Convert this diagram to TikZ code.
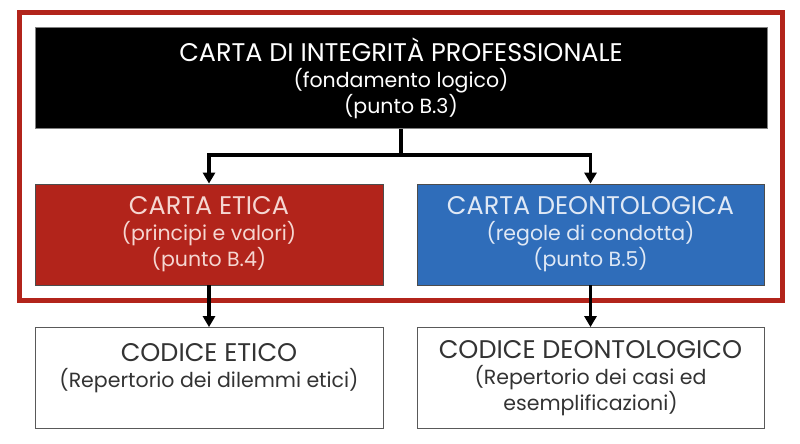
\documentclass[tikz,border=0pt]{standalone}
\usepackage{fontspec}
\setmainfont{Poppins}
\usepackage{xcolor}
\usepackage{tikz}
\usetikzlibrary{arrows.meta,positioning,fit,calc}

\definecolor{cartared}{HTML}{B2241B}
\definecolor{cartablue}{HTML}{2F6DBA}
\definecolor{pinktext}{HTML}{F5D6D1}
\definecolor{bluetext}{HTML}{DFE8F5}
\definecolor{greytext}{HTML}{333333}

\newcommand{\boxtitle}[1]{{\fontsize{25.5}{26}\selectfont #1}}

\begin{document}
\begin{tikzpicture}[
    x=1pt, y=-1pt,
    box/.style={rectangle, draw, line width=0.8pt, minimum height=101pt, align=center,
        inner sep=0pt, font=\fontsize{20.5}{26}\selectfont},
    arrow/.style={-{Triangle[length=11pt,width=12pt]}, line width=3.4pt, black}
]
    \useasboundingbox (0,0) rectangle (800,444);

    % Top box
    \node[box, fill=black, draw=gray, text=white, minimum width=732pt] (integrita) at (401,78)
        {\boxtitle{CARTA DI INTEGRITÀ PROFESSIONALE}\\(fondamento logico)\\(punto B.3)};

    % Middle row
    \node[box, fill=cartared, draw=black!70, text=pinktext, minimum width=348pt] (etica) at (209,234.5)
        {\boxtitle{CARTA ETICA}\\(principi e valori)\\(punto B.4)};
    \node[box, fill=cartablue, draw=black!70, text=bluetext, minimum width=347pt] (deonto) at (590.5,234.5)
        {\boxtitle{CARTA DEONTOLOGICA}\\(regole di condotta)\\(punto B.5)};

    % Bottom row
    \node[box, fill=white, draw=black!65, text=greytext, minimum width=348pt] (codetico) at (209,378)
        {\boxtitle{CODICE ETICO}\\(Repertorio dei dilemmi etici)\\\mbox{}};
    \node[box, fill=white, draw=black!65, text=greytext, minimum width=347pt] (coddeonto) at (590.5,378)
        {\boxtitle{CODICE DEONTOLOGICO}\\(Repertorio dei casi ed\\esemplificazioni)};

    % Red frame
    \node[draw=cartared, line width=5pt, inner sep=15pt, fit=(integrita)(etica)(deonto)] (frame) {};

    % Arrows
    \coordinate (split) at ($(integrita.south)+(0,26)$);
    \draw[line width=3.4pt] (integrita.south) -- (split);
    \draw[arrow] (split) -| (etica.north);
    \draw[arrow] (split) -| (deonto.north);
    \draw[arrow] (etica) -- (codetico);
    \draw[arrow] (deonto) -- (coddeonto);
\end{tikzpicture}
\end{document}
